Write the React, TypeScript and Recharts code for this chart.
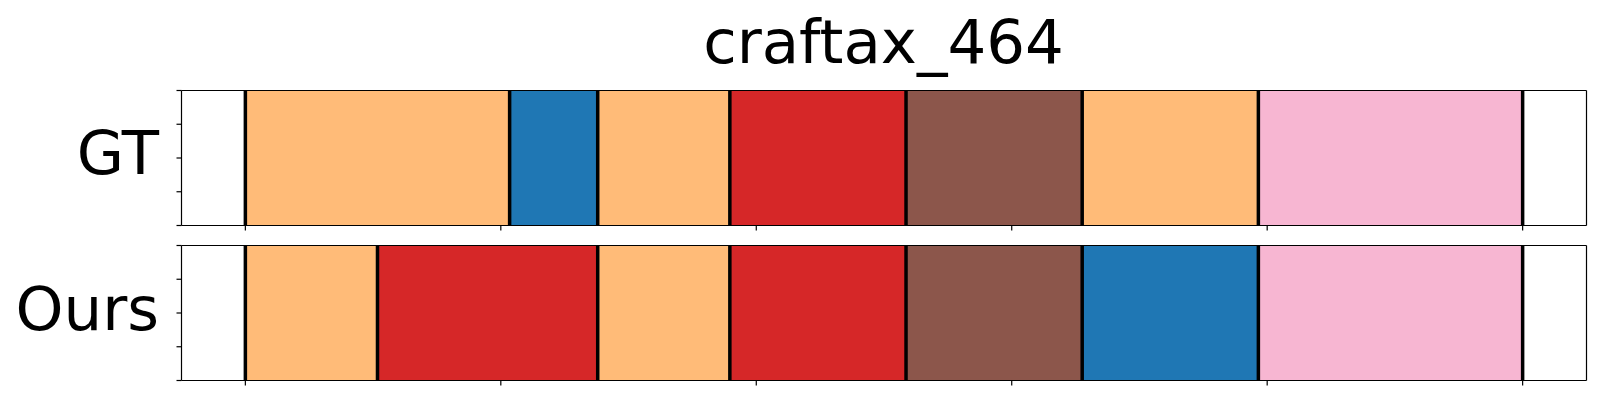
import { BarChart, Bar, XAxis, YAxis, ReferenceLine } from 'recharts'

// segment lengths (frames) and their action colour, one list per row
const xTicks = [0, 58, 116, 174, 232, 290]
const yTicks = [0, 0.25, 0.5, 0.75, 1]
const gtLengths = [60, 20, 30, 40, 40, 40, 60]
const gtActions = ['orange', 'blue', 'orange', 'red', 'brown', 'orange', 'pink']
const oursLengths = [30, 50, 30, 40, 40, 40, 60]
const oursActions = ['orange', 'red', 'orange', 'red', 'brown', 'blue', 'pink']

const palette: Record<string, string> = {
  orange: '#ffbb78',
  blue: '#1f77b4',
  red: '#d62728',
  brown: '#8c564b',
  pink: '#f7b6d2',
}

const font = '"DejaVu Sans", sans-serif'
const noLabel = () => <g />
const black = { stroke: '#000', strokeWidth: 1.2 }

// the y axis is a band axis in vertical layout, so spread the 0..1 ticks over the band
const bandTicks = (p: any) => {
  const half = p.payload?.offset ?? 67.5
  const bottom = p.y + half
  return (
    <g>
      {yTicks.map((v) => (
        <line key={v} x1={p.x} x2={p.x + 5} y1={bottom - v * 2 * half} y2={bottom - v * 2 * half} stroke="#000" strokeWidth={1.2} />
      ))}
    </g>
  )
}

function Row({ name, lengths, actions, top }: { name: string; lengths: number[]; actions: string[]; top: number }) {
  const row: Record<string, number | string> = { name }
  lengths.forEach((v, i) => (row['s' + i] = v))
  const bounds = lengths.reduce((acc, v) => [...acc, acc[acc.length - 1] + v], [0])

  return (
    <div style={{ position: 'absolute', left: 0, top: top - 5 }}>
      <BarChart
        width={1600}
        height={150}
        layout="vertical"
        data={[row]}
        margin={{ top: 4.5, right: 12.5, bottom: 8.5, left: 180.5 }}
        barCategoryGap={0}
      >
        <YAxis
          type="category"
          dataKey="name"
          width={1}
          tick={bandTicks}
          tickSize={5}
          tickMargin={0}
          tickLine={false}
          axisLine={black}
        />
        <YAxis
          yAxisId="right"
          orientation="right"
          type="category"
          dataKey="name"
          tick={noLabel}
          tickLine={false}
          width={1}
          axisLine={black}
        />
        <XAxis
          type="number"
          domain={[-14.5, 304.5]}
          ticks={xTicks}
          tick={noLabel}
          tickSize={5}
          height={1}
          axisLine={black}
          tickLine={black}
          allowDataOverflow
        />
        <XAxis
          xAxisId="top"
          orientation="top"
          type="number"
          domain={[-14.5, 304.5]}
          ticks={xTicks}
          tick={noLabel}
          tickLine={false}
          height={1}
          axisLine={black}
        />
        {lengths.map((_, i) => (
          <Bar
            key={i}
            dataKey={'s' + i}
            stackId="seg"
            fill={palette[actions[i]]}
            isAnimationActive={false}
          />
        ))}
        {bounds.map((b, i) => (
          <ReferenceLine key={'b' + i} x={b} stroke="#000" strokeWidth={3.5} />
        ))}
      </BarChart>
    </div>
  )
}

export default function App() {
  const label = {
    position: 'absolute' as const,
    fontFamily: font,
    fontSize: 61,
    lineHeight: '61px',
    color: '#000',
    whiteSpace: 'nowrap' as const,
  }
  return (
    <div style={{ position: 'absolute', left: 0, top: 0, width: 1600, height: 400, background: '#fff' }}>
      <div style={{ ...label, left: 181, width: 1405, top: 10.7, textAlign: 'center' }}>craftax_464</div>
      <div style={{ ...label, right: 1600 - 159, top: 122.4, textAlign: 'right' }}>GT</div>
      <div style={{ ...label, right: 1600 - 159, top: 278.4, textAlign: 'right' }}>Ours</div>
      <Row name="GT" lengths={gtLengths} actions={gtActions} top={90} />
      <Row name="Ours" lengths={oursLengths} actions={oursActions} top={245} />
    </div>
  )
}
